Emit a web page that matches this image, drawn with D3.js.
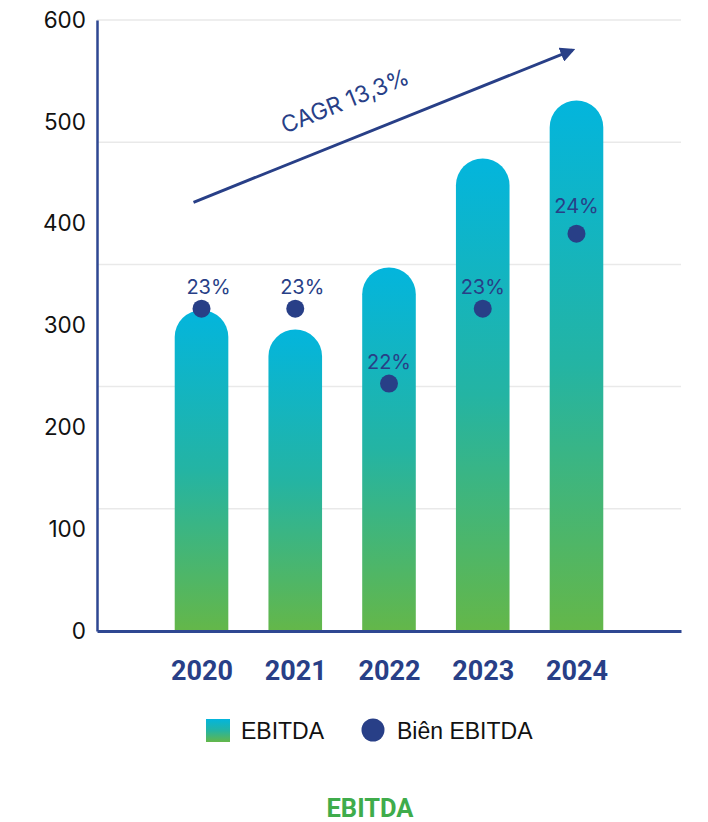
<!DOCTYPE html>
<html>
<head>
<meta charset="utf-8">
<script src="https://cdn.jsdelivr.net/npm/d3@7"></script>
<style>
  body { margin: 0; background: #fff; }
  svg { display: block; font-family: Inter, "Liberation Sans", Arial, sans-serif; }
</style>
</head>
<body>
<svg width="708" height="822"></svg>
<script>
// du lieu
var years = ["2020", "2021", "2022", "2023", "2024"];
var ebitda = [315, 296, 357, 464, 521];      // ty dong
var marginPct = [23, 23, 22, 23, 24];        // bien EBITDA (%)
var yTicks = [0, 100, 200, 300, 400, 500, 600];
var cagrLabel = "CAGR 13,3%";
var cagrFrom = {year: "2020", value: 421};
var cagrTo = {year: "2024", value: 572};

var navy = "#283f87";
var svg = d3.select("svg");
var plotL = 97, plotR = 681, plotT = 20, plotB = 631;

var x = d3.scalePoint().domain(years).range([plotL, plotR]).padding(1.115);
var y = d3.scaleLinear().domain([0, 600]).range([plotB, plotT]);
// truc phu cho bien EBITDA (an)
var y2 = d3.scaleLinear().domain([18.7, 26.85]).range([plotB, plotT]);

// gradient cho cot
var defs = svg.append("defs");
var grad = defs.append("linearGradient")
  .attr("id", "barGrad").attr("x1", 0).attr("y1", 0).attr("x2", 0).attr("y2", 1);
grad.append("stop").attr("offset", "0%").attr("stop-color", "#03b5dd");
grad.append("stop").attr("offset", "50%").attr("stop-color", "#24b4a3");
grad.append("stop").attr("offset", "100%").attr("stop-color", "#64b749");

defs.append("marker")
  .attr("id", "arrow")
  .attr("viewBox", "0 -5 10 10")
  .attr("refX", 8).attr("refY", 0)
  .attr("markerWidth", 5).attr("markerHeight", 5)
  .attr("markerUnits", "strokeWidth")
  .attr("orient", "auto")
  .append("path").attr("d", "M0,-5L10,0L0,5Z").attr("fill", navy);

// luoi ngang (theo truc phu)
var d2 = y2.domain();
var gridVals = d3.range(1, 6).map(function(i) { return d2[0] + i * (d2[1] - d2[0]) / 5; });
svg.append("g").selectAll("line")
  .data(gridVals).enter().append("line")
  .attr("x1", plotL).attr("x2", plotR)
  .attr("y1", function(d) { return y2(d); })
  .attr("y2", function(d) { return y2(d); })
  .attr("stroke", "#e9e9e9").attr("stroke-width", 1.5);

// cot bo tron
var bw = 53.6, r = bw / 2;
svg.append("g").selectAll("path")
  .data(years).enter().append("path")
  .attr("fill", "url(#barGrad)")
  .attr("d", function(d, i) {
    var x0 = x(d) - r, x1 = x(d) + r, yt = y(ebitda[i]), yb = y(0);
    return "M" + x0 + "," + yb + "L" + x0 + "," + (yt + r) +
      "A" + r + "," + r + " 0 0 1 " + x1 + "," + (yt + r) +
      "L" + x1 + "," + yb + "Z";
  });

// truc y
var yAxis = svg.append("g")
  .attr("transform", "translate(" + plotL + ",0)")
  .call(d3.axisLeft(y).tickValues(yTicks).tickSize(0).tickSizeOuter(0).tickPadding(11));
yAxis.select(".domain").attr("stroke", "#2e4792").attr("stroke-width", 2.5);
yAxis.selectAll("text").attr("font-family", "Inter, sans-serif")
  .attr("font-size", 22.5).attr("fill", "#111");

// truc x
var xAxis = svg.append("g")
  .attr("transform", "translate(0," + plotB + ")")
  .call(d3.axisBottom(x).tickSize(0).tickSizeOuter(0));
xAxis.select(".domain").attr("stroke", "#2e4792").attr("stroke-width", 3);
xAxis.selectAll("text")
  .attr("y", 39).attr("dy", "0.36em")
  .attr("font-family", "Roboto, sans-serif")
  .attr("font-weight", "bold").attr("font-size", 27).attr("fill", navy);

// diem bien EBITDA
svg.append("g").selectAll("circle")
  .data(years).enter().append("circle")
  .attr("cx", function(d) { return x(d); })
  .attr("cy", function(d, i) { return y2(marginPct[i]); })
  .attr("r", 9).attr("fill", navy);

// nhan % (hai nhan dau lech phai nhu ban goc, nhan 2024 cao hon)
svg.append("g").selectAll("text")
  .data(years).enter().append("text")
  .attr("x", function(d, i) { return x(d) + (i < 2 ? 7 : 0); })
  .attr("y", function(d, i) { return y2(marginPct[i]) - (i === 4 ? 28 : 22); })
  .attr("dy", "0.35em")
  .attr("text-anchor", "middle")
  .attr("font-size", 20).attr("fill", navy)
  .text(function(d, i) { return marginPct[i] + "%"; });

// mui ten CAGR
var ax1 = x(cagrFrom.year) - 8, ay1 = y(cagrFrom.value);
var ax2 = x(cagrTo.year), ay2 = y(cagrTo.value);
svg.append("line")
  .attr("x1", ax1).attr("y1", ay1).attr("x2", ax2 - 4).attr("y2", ay2 + 1.6)
  .attr("stroke", navy).attr("stroke-width", 3)
  .attr("marker-end", "url(#arrow)");
var ang = Math.atan2(ay2 - ay1, ax2 - ax1) * 180 / Math.PI;
svg.append("text")
  .attr("transform", "translate(345,101) rotate(" + ang + ")")
  .attr("text-anchor", "middle").attr("dy", "0.35em")
  .attr("font-size", 23).attr("fill", navy)
  .text(cagrLabel);

// chu thich
var lg = svg.append("g").attr("font-family", "'Liberation Sans', Arial, sans-serif");
lg.append("rect").attr("x", 206).attr("y", 719).attr("width", 24).attr("height", 23)
  .attr("fill", "url(#barGrad)");
lg.append("text").attr("x", 241).attr("y", 731).attr("dy", "0.35em")
  .attr("font-size", 23).attr("fill", "#111").text("EBITDA");
lg.append("circle").attr("cx", 373).attr("cy", 730).attr("r", 11.5).attr("fill", navy);
lg.append("text").attr("x", 397).attr("y", 731).attr("dy", "0.35em")
  .attr("font-size", 23).attr("fill", "#111").text("Biên EBITDA");

// tieu de
svg.append("text")
  .attr("x", 370).attr("y", 808).attr("dy", "0.35em")
  .attr("text-anchor", "middle")
  .attr("font-family", "Roboto, sans-serif")
  .attr("font-weight", "bold").attr("font-size", 25.5).attr("fill", "#3fac4b")
  .text("EBITDA");
</script>
</body>
</html>
